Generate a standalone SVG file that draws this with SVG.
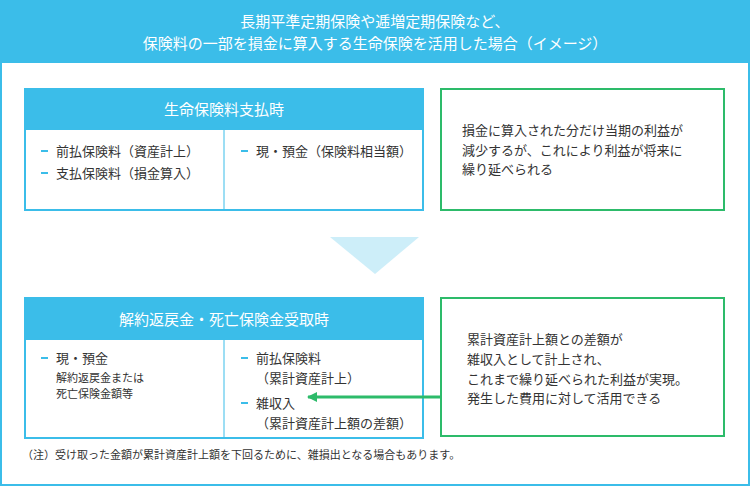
<svg xmlns="http://www.w3.org/2000/svg" width="750" height="486" viewBox="0 0 750 486">
<style>
text{font-family:"Noto Sans CJK JP","Noto Sans",sans-serif;}
.w{fill:#fff;font-size:15px;text-anchor:middle}
.t{fill:#333;font-size:13px}
.s{fill:#333;font-size:11px}
.b{fill:none;stroke:#3bbde9;stroke-width:2}
.g{fill:#fff;stroke:#2dbb6a;stroke-width:2}
.d{stroke:#3bbde9;stroke-width:2}
</style>
<defs><marker id="ah" markerWidth="10" markerHeight="10" refX="9" refY="5" orient="auto" markerUnits="userSpaceOnUse"><path d="M0,0L10,5L0,10z" fill="#2dbb6a"/></marker></defs>
<rect x="1" y="1" width="748" height="484" fill="#fff" stroke="#3bbde9" stroke-width="2"/>
<g id="title"><rect x="0" y="0" width="750" height="63" fill="#3bbde9"/>
<text class="w" x="375" y="27">長期平準定期保険や逓増定期保険など、</text>
<text class="w" x="375" y="49">保険料の一部を損金に算入する生命保険を活用した場合（イメージ）</text></g>
<g id="box1"><rect x="25" y="89" width="398" height="121" fill="#fff" stroke="#3bbde9" stroke-width="2"/>
<rect x="25" y="89" width="398" height="41" fill="#3bbde9"/>
<text class="w" x="224" y="115">生命保険料支払時</text>
<line x1="224" y1="130" x2="224" y2="210" stroke="#3bbde9"/>
<line class="d" x1="41" y1="151" x2="48" y2="151"/><text class="t" x="56" y="156">前払保険料（資産計上）</text>
<line class="d" x1="41" y1="173" x2="48" y2="173"/><text class="t" x="56" y="178">支払保険料（損金算入）</text>
<line class="d" x1="241" y1="151" x2="248" y2="151"/><text class="t" x="256" y="156">現・預金（保険料相当額）</text></g>
<g id="note1"><rect class="g" x="441" y="89" width="283" height="121"/>
<text class="t" x="462" y="135">損金に算入された分だけ当期の利益が</text>
<text class="t" x="462" y="155">減少するが、これにより利益が将来に</text>
<text class="t" x="462" y="174">繰り延べられる</text></g>
<g id="tri"><polygon points="330,237 419,237 375,274" fill="#cdeef9"/></g>
<g id="box2"><rect x="25" y="298" width="398" height="140" fill="#fff" stroke="#3bbde9" stroke-width="2"/>
<rect x="25" y="298" width="398" height="42" fill="#3bbde9"/>
<text class="w" x="224" y="325">解約返戻金・死亡保険金受取時</text>
<line x1="224" y1="340" x2="224" y2="438" stroke="#3bbde9"/>
<line class="d" x1="41" y1="358" x2="48" y2="358"/><text class="t" x="56" y="363">現・預金</text>
<text class="s" x="56" y="382">解約返戻金または</text>
<text class="s" x="56" y="398">死亡保険金額等</text>
<line class="d" x1="241" y1="358" x2="248" y2="358"/><text class="t" x="256" y="363">前払保険料</text>
<text class="t" x="256" y="383">（累計資産計上）</text>
<line class="d" x1="241" y1="403" x2="248" y2="403"/><text class="t" x="256" y="408">雑収入</text>
<text class="t" x="256" y="428">（累計資産計上額の差額）</text></g>
<g id="note2"><rect class="g" x="441" y="298" width="283" height="138"/>
<text class="t" x="467" y="344">累計資産計上額との差額が</text>
<text class="t" x="467" y="364">雑収入として計上され、</text>
<text class="t" x="467" y="384">これまで繰り延べられた利益が実現。</text>
<text class="t" x="467" y="403">発生した費用に対して活用できる</text></g>
<g id="connectors"><line x1="441" y1="397" x2="308" y2="397" stroke="#2dbb6a" stroke-width="3" marker-end="url(#ah)"/></g>
<text class="s" x="22" y="459">（注）受け取った金額が累計資産計上額を下回るために、雑損出となる場合もあります。</text>
</svg>
